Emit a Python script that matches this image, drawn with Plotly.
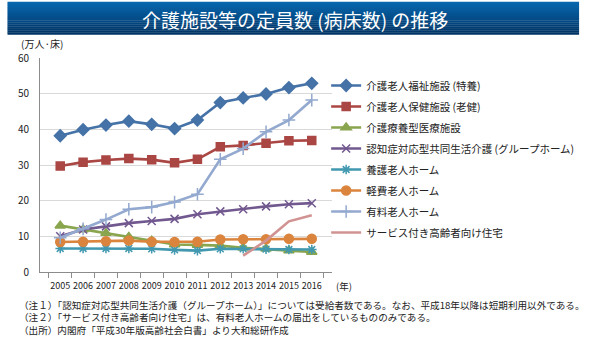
import plotly.graph_objects as go

# --- data -------------------------------------------------------------
years = [str(y) for y in range(2005, 2017)]

tokuyo = [38.2, 39.9, 41.2, 42.3, 41.4, 40.2, 42.6, 47.5, 48.8, 49.9, 51.7, 52.9]
roken = [29.7, 30.8, 31.4, 31.8, 31.5, 30.6, 31.6, 35.1, 35.5, 36.1, 36.8, 36.9]
ryoyo = [13.0, 11.9, 10.9, 9.8, 8.8, 7.7, 7.6, 7.4, 6.8, 6.5, 6.0, 5.6]
group_home = [10.0, 11.9, 12.8, 13.7, 14.3, 14.9, 16.2, 17.0, 17.6, 18.4, 19.0, 19.3]
yogo = [6.6, 6.6, 6.6, 6.6, 6.5, 6.2, 6.0, 6.5, 6.5, 6.4, 6.3, 6.3]
keihi = [8.4, 8.5, 8.6, 8.8, 8.5, 8.4, 8.5, 9.1, 9.2, 9.2, 9.3, 9.3]
yuryo = [9.6, 12.1, 14.7, 17.6, 18.2, 19.6, 21.8, 31.6, 34.6, 39.3, 42.6, 48.2]
sakoju = [None, None, None, None, None, None, None, None, 4.6, 8.8, 14.2, 15.9]

series_names = [
    "介護老人福祉施設 (特養)",
    "介護老人保健施設 (老健)",
    "介護療養型医療施設",
    "認知症対応型共同生活介護 (グループホーム)",
    "養護老人ホーム",
    "軽費老人ホーム",
    "有料老人ホーム",
    "サービス付き高齢者向け住宅",
]
series_values = [tokuyo, roken, ryoyo, group_home, yogo, keihi, yuryo, sakoju]

y_ticks = [0, 10, 20, 30, 40, 50, 60]

title_text = "介護施設等の定員数 (病床数) の推移"
unit_text = "(万人·床)"
year_unit = "(年)"
notes = [
    "（注１）「認知症対応型共同生活介護（グループホーム）」については受給者数である。なお、平成18年以降は短期利用以外である。",
    "（注２）「サービス付き高齢者向け住宅」は、有料老人ホームの届出をしているもののみである。",
    "（出所）内閣府「平成30年版高齢社会白書」より大和総研作成",
]

# --- styling ----------------------------------------------------------
JP = "Noto Sans CJK JP"
TEXT = "#222222"
styles = [
    dict(color="#4572A7", symbol="diamond", size=9),
    dict(color="#AA4643", symbol="square", size=8),
    dict(color="#89A54E", symbol="triangle-up", size=9),
    dict(color="#71588F", symbol="x-thin-open", size=8),
    dict(color="#4198AF", symbol="asterisk-open", size=8),
    dict(color="#DB843D", symbol="circle", size=9),
    dict(color="#93A9CF", symbol="cross-thin-open", size=9),
    dict(color="#D19392", symbol=None, size=0),
]

W, H = 592, 337
L, R, T, B = 40, 339, 58, 272


def px(x):
    return (x - L) / (R - L)


def py(y):
    return (B - y) / (B - T)


fig = go.Figure()

for i, (name, vals, st) in enumerate(zip(series_names, series_values, styles)):
    if st["symbol"] is None:
        mode = "lines"
        marker = None
    else:
        mode = "lines+markers"
        marker = dict(symbol=st["symbol"], size=st["size"], color=st["color"],
                      line=dict(color=st["color"], width=1.5))
    fig.add_trace(go.Scatter(
        x=years, y=vals, name=name, mode=mode,
        line=dict(color=st["color"], width=2.6),
        marker=marker, connectgaps=False, legendgroup=f"s{i}",
    ))

# title banner with a vertical blue gradient
top_rgb = (8, 102, 174)
bot_rgb = (0, 52, 100)
y0, y1 = 1.7, 34.5
n = 16
for k in range(n):
    t = k / (n - 1)
    c = tuple(round(top_rgb[j] + (bot_rgb[j] - top_rgb[j]) * t) for j in range(3))
    ya = y0 + (y1 - y0) * k / n
    yb = y0 + (y1 - y0) * (k + 1) / n + 0.3
    fig.add_shape(type="rect", xref="paper", yref="paper",
                  x0=px(6.7), x1=px(592), y0=py(yb), y1=py(ya),
                  line=dict(width=0), fillcolor=f"rgb{c}", layer="below")

annotations = [
    dict(text=title_text, x=px(301), y=py(19), xanchor="center", yanchor="middle",
         font=dict(family=JP, size=19, color="white")),
    dict(text=unit_text, x=px(18), y=py(43), xanchor="left", yanchor="middle",
         font=dict(family=JP, size=10, color=TEXT)),
    dict(text=year_unit, x=px(341), y=py(286), xanchor="left", yanchor="middle",
         font=dict(family=JP, size=9.5, color=TEXT)),
    dict(text="<br>".join(notes), x=px(16), y=py(296), xanchor="left", yanchor="top",
         align="left", font=dict(family=JP, size=9.6, color=TEXT)),
]
for a in annotations:
    a.update(xref="paper", yref="paper", showarrow=False)

fig.update_layout(
    width=W, height=H,
    margin=dict(l=L, r=W - R, t=T, b=H - B, pad=0),
    paper_bgcolor="white", plot_bgcolor="white",
    font=dict(family=JP, color=TEXT),
    showlegend=True,
    legend=dict(
        x=px(333), y=py(71), xanchor="left", yanchor="top",
        font=dict(family=JP, size=10.5, color=TEXT),
        bgcolor="rgba(0,0,0,0)", borderwidth=0,
        itemwidth=30, maxheight=320, tracegroupgap=2,
    ),
    annotations=annotations,
    xaxis=dict(
        type="category", categoryorder="array", categoryarray=years,
        showgrid=False, showline=True, linecolor="#8C8C8C", linewidth=1,
        ticks="outside", tickson="boundaries", ticklen=5, tickcolor="#8C8C8C",
        tickangle=0, ticklabelstandoff=5,
        tickfont=dict(family=JP, size=9, color=TEXT),
        zeroline=False, fixedrange=True,
    ),
    yaxis=dict(
        range=[0, 60], tickvals=y_ticks,
        showgrid=True, gridcolor="#D9D9D9", gridwidth=1,
        showline=True, linecolor="#8C8C8C", linewidth=1,
        ticks="", zeroline=False,
        tickfont=dict(family=JP, size=10, color=TEXT),
        ticklabelstandoff=8,
    ),
)

fig.write_html("out.html")
